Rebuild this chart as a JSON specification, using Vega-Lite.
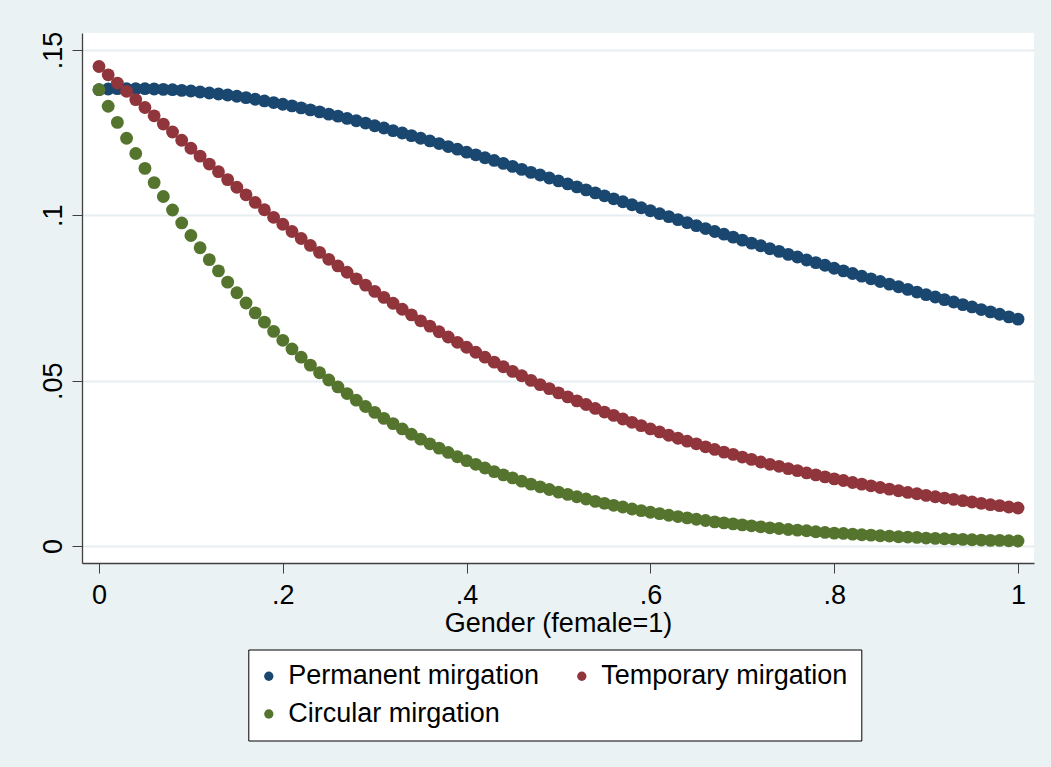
{
  "$schema": "https://vega.github.io/schema/vega-lite/v6.json",
  "width": 952,
  "height": 530,
  "autosize": {"type": "none"},
  "padding": {"left": 82, "top": 33, "right": 17, "bottom": 204},
  "background": "#EAF2F3",
  "view": {"stroke": null, "fill": "white"},
  "data": {"values": [
{"g":0,"s":"Permanent mirgation","p":0.1380},{"g":0.01,"s":"Permanent mirgation","p":0.1382},{"g":0.02,"s":"Permanent mirgation","p":0.1383},{"g":0.03,"s":"Permanent mirgation","p":0.1383},{"g":0.04,"s":"Permanent mirgation","p":0.1383},{"g":0.05,"s":"Permanent mirgation","p":0.1383},{"g":0.06,"s":"Permanent mirgation","p":0.1382},{"g":0.07,"s":"Permanent mirgation","p":0.1381},{"g":0.08,"s":"Permanent mirgation","p":0.1380},{"g":0.09,"s":"Permanent mirgation","p":0.1378},
{"g":0.1,"s":"Permanent mirgation","p":0.1376},{"g":0.11,"s":"Permanent mirgation","p":0.1373},{"g":0.12,"s":"Permanent mirgation","p":0.1370},{"g":0.13,"s":"Permanent mirgation","p":0.1367},{"g":0.14,"s":"Permanent mirgation","p":0.1364},{"g":0.15,"s":"Permanent mirgation","p":0.1360},{"g":0.16,"s":"Permanent mirgation","p":0.1356},{"g":0.17,"s":"Permanent mirgation","p":0.1351},{"g":0.18,"s":"Permanent mirgation","p":0.1346},{"g":0.19,"s":"Permanent mirgation","p":0.1341},
{"g":0.2,"s":"Permanent mirgation","p":0.1336},{"g":0.21,"s":"Permanent mirgation","p":0.1331},{"g":0.22,"s":"Permanent mirgation","p":0.1325},{"g":0.23,"s":"Permanent mirgation","p":0.1319},{"g":0.24,"s":"Permanent mirgation","p":0.1313},{"g":0.25,"s":"Permanent mirgation","p":0.1306},{"g":0.26,"s":"Permanent mirgation","p":0.1300},{"g":0.27,"s":"Permanent mirgation","p":0.1293},{"g":0.28,"s":"Permanent mirgation","p":0.1286},{"g":0.29,"s":"Permanent mirgation","p":0.1279},
{"g":0.3,"s":"Permanent mirgation","p":0.1271},{"g":0.31,"s":"Permanent mirgation","p":0.1264},{"g":0.32,"s":"Permanent mirgation","p":0.1256},{"g":0.33,"s":"Permanent mirgation","p":0.1249},{"g":0.34,"s":"Permanent mirgation","p":0.1241},{"g":0.35,"s":"Permanent mirgation","p":0.1233},{"g":0.36,"s":"Permanent mirgation","p":0.1225},{"g":0.37,"s":"Permanent mirgation","p":0.1217},{"g":0.38,"s":"Permanent mirgation","p":0.1208},{"g":0.39,"s":"Permanent mirgation","p":0.1200},
{"g":0.4,"s":"Permanent mirgation","p":0.1191},{"g":0.41,"s":"Permanent mirgation","p":0.1183},{"g":0.42,"s":"Permanent mirgation","p":0.1174},{"g":0.43,"s":"Permanent mirgation","p":0.1166},{"g":0.44,"s":"Permanent mirgation","p":0.1157},{"g":0.45,"s":"Permanent mirgation","p":0.1148},{"g":0.46,"s":"Permanent mirgation","p":0.1139},{"g":0.47,"s":"Permanent mirgation","p":0.1130},{"g":0.48,"s":"Permanent mirgation","p":0.1122},{"g":0.49,"s":"Permanent mirgation","p":0.1113},
{"g":0.5,"s":"Permanent mirgation","p":0.1104},{"g":0.51,"s":"Permanent mirgation","p":0.1095},{"g":0.52,"s":"Permanent mirgation","p":0.1086},{"g":0.53,"s":"Permanent mirgation","p":0.1077},{"g":0.54,"s":"Permanent mirgation","p":0.1068},{"g":0.55,"s":"Permanent mirgation","p":0.1059},{"g":0.56,"s":"Permanent mirgation","p":0.1050},{"g":0.57,"s":"Permanent mirgation","p":0.1041},{"g":0.58,"s":"Permanent mirgation","p":0.1032},{"g":0.59,"s":"Permanent mirgation","p":0.1023},
{"g":0.6,"s":"Permanent mirgation","p":0.1014},{"g":0.61,"s":"Permanent mirgation","p":0.1005},{"g":0.62,"s":"Permanent mirgation","p":0.0996},{"g":0.63,"s":"Permanent mirgation","p":0.0987},{"g":0.64,"s":"Permanent mirgation","p":0.0978},{"g":0.65,"s":"Permanent mirgation","p":0.0969},{"g":0.66,"s":"Permanent mirgation","p":0.0960},{"g":0.67,"s":"Permanent mirgation","p":0.0951},{"g":0.68,"s":"Permanent mirgation","p":0.0943},{"g":0.69,"s":"Permanent mirgation","p":0.0934},
{"g":0.7,"s":"Permanent mirgation","p":0.0925},{"g":0.71,"s":"Permanent mirgation","p":0.0916},{"g":0.72,"s":"Permanent mirgation","p":0.0908},{"g":0.73,"s":"Permanent mirgation","p":0.0899},{"g":0.74,"s":"Permanent mirgation","p":0.0891},{"g":0.75,"s":"Permanent mirgation","p":0.0882},{"g":0.76,"s":"Permanent mirgation","p":0.0874},{"g":0.77,"s":"Permanent mirgation","p":0.0865},{"g":0.78,"s":"Permanent mirgation","p":0.0857},{"g":0.79,"s":"Permanent mirgation","p":0.0849},
{"g":0.8,"s":"Permanent mirgation","p":0.0840},{"g":0.81,"s":"Permanent mirgation","p":0.0832},{"g":0.82,"s":"Permanent mirgation","p":0.0824},{"g":0.83,"s":"Permanent mirgation","p":0.0816},{"g":0.84,"s":"Permanent mirgation","p":0.0808},{"g":0.85,"s":"Permanent mirgation","p":0.0800},{"g":0.86,"s":"Permanent mirgation","p":0.0792},{"g":0.87,"s":"Permanent mirgation","p":0.0784},{"g":0.88,"s":"Permanent mirgation","p":0.0776},{"g":0.89,"s":"Permanent mirgation","p":0.0768},
{"g":0.9,"s":"Permanent mirgation","p":0.0760},{"g":0.91,"s":"Permanent mirgation","p":0.0753},{"g":0.92,"s":"Permanent mirgation","p":0.0745},{"g":0.93,"s":"Permanent mirgation","p":0.0738},{"g":0.94,"s":"Permanent mirgation","p":0.0730},{"g":0.95,"s":"Permanent mirgation","p":0.0723},{"g":0.96,"s":"Permanent mirgation","p":0.0715},{"g":0.97,"s":"Permanent mirgation","p":0.0708},{"g":0.98,"s":"Permanent mirgation","p":0.0701},{"g":0.99,"s":"Permanent mirgation","p":0.0693},
{"g":1,"s":"Permanent mirgation","p":0.0686},
{"g":0,"s":"Temporary mirgation","p":0.1450},{"g":0.01,"s":"Temporary mirgation","p":0.1425},{"g":0.02,"s":"Temporary mirgation","p":0.1400},{"g":0.03,"s":"Temporary mirgation","p":0.1375},{"g":0.04,"s":"Temporary mirgation","p":0.1350},{"g":0.05,"s":"Temporary mirgation","p":0.1326},{"g":0.06,"s":"Temporary mirgation","p":0.1301},{"g":0.07,"s":"Temporary mirgation","p":0.1276},{"g":0.08,"s":"Temporary mirgation","p":0.1252},{"g":0.09,"s":"Temporary mirgation","p":0.1227},
{"g":0.1,"s":"Temporary mirgation","p":0.1203},{"g":0.11,"s":"Temporary mirgation","p":0.1179},{"g":0.12,"s":"Temporary mirgation","p":0.1155},{"g":0.13,"s":"Temporary mirgation","p":0.1132},{"g":0.14,"s":"Temporary mirgation","p":0.1108},{"g":0.15,"s":"Temporary mirgation","p":0.1085},{"g":0.16,"s":"Temporary mirgation","p":0.1062},{"g":0.17,"s":"Temporary mirgation","p":0.1039},{"g":0.18,"s":"Temporary mirgation","p":0.1017},{"g":0.19,"s":"Temporary mirgation","p":0.0994},
{"g":0.2,"s":"Temporary mirgation","p":0.0973},{"g":0.21,"s":"Temporary mirgation","p":0.0951},{"g":0.22,"s":"Temporary mirgation","p":0.0930},{"g":0.23,"s":"Temporary mirgation","p":0.0909},{"g":0.24,"s":"Temporary mirgation","p":0.0888},{"g":0.25,"s":"Temporary mirgation","p":0.0867},{"g":0.26,"s":"Temporary mirgation","p":0.0847},{"g":0.27,"s":"Temporary mirgation","p":0.0828},{"g":0.28,"s":"Temporary mirgation","p":0.0808},{"g":0.29,"s":"Temporary mirgation","p":0.0789},
{"g":0.3,"s":"Temporary mirgation","p":0.0770},{"g":0.31,"s":"Temporary mirgation","p":0.0752},{"g":0.32,"s":"Temporary mirgation","p":0.0734},{"g":0.33,"s":"Temporary mirgation","p":0.0716},{"g":0.34,"s":"Temporary mirgation","p":0.0699},{"g":0.35,"s":"Temporary mirgation","p":0.0681},{"g":0.36,"s":"Temporary mirgation","p":0.0665},{"g":0.37,"s":"Temporary mirgation","p":0.0648},{"g":0.38,"s":"Temporary mirgation","p":0.0632},{"g":0.39,"s":"Temporary mirgation","p":0.0616},
{"g":0.4,"s":"Temporary mirgation","p":0.0601},{"g":0.41,"s":"Temporary mirgation","p":0.0586},{"g":0.42,"s":"Temporary mirgation","p":0.0571},{"g":0.43,"s":"Temporary mirgation","p":0.0556},{"g":0.44,"s":"Temporary mirgation","p":0.0542},{"g":0.45,"s":"Temporary mirgation","p":0.0528},{"g":0.46,"s":"Temporary mirgation","p":0.0515},{"g":0.47,"s":"Temporary mirgation","p":0.0501},{"g":0.48,"s":"Temporary mirgation","p":0.0488},{"g":0.49,"s":"Temporary mirgation","p":0.0476},
{"g":0.5,"s":"Temporary mirgation","p":0.0463},{"g":0.51,"s":"Temporary mirgation","p":0.0451},{"g":0.52,"s":"Temporary mirgation","p":0.0439},{"g":0.53,"s":"Temporary mirgation","p":0.0428},{"g":0.54,"s":"Temporary mirgation","p":0.0416},{"g":0.55,"s":"Temporary mirgation","p":0.0405},{"g":0.56,"s":"Temporary mirgation","p":0.0395},{"g":0.57,"s":"Temporary mirgation","p":0.0384},{"g":0.58,"s":"Temporary mirgation","p":0.0374},{"g":0.59,"s":"Temporary mirgation","p":0.0364},
{"g":0.6,"s":"Temporary mirgation","p":0.0354},{"g":0.61,"s":"Temporary mirgation","p":0.0345},{"g":0.62,"s":"Temporary mirgation","p":0.0335},{"g":0.63,"s":"Temporary mirgation","p":0.0326},{"g":0.64,"s":"Temporary mirgation","p":0.0317},{"g":0.65,"s":"Temporary mirgation","p":0.0309},{"g":0.66,"s":"Temporary mirgation","p":0.0300},{"g":0.67,"s":"Temporary mirgation","p":0.0292},{"g":0.68,"s":"Temporary mirgation","p":0.0284},{"g":0.69,"s":"Temporary mirgation","p":0.0277},
{"g":0.7,"s":"Temporary mirgation","p":0.0269},{"g":0.71,"s":"Temporary mirgation","p":0.0262},{"g":0.72,"s":"Temporary mirgation","p":0.0254},{"g":0.73,"s":"Temporary mirgation","p":0.0247},{"g":0.74,"s":"Temporary mirgation","p":0.0241},{"g":0.75,"s":"Temporary mirgation","p":0.0234},{"g":0.76,"s":"Temporary mirgation","p":0.0228},{"g":0.77,"s":"Temporary mirgation","p":0.0221},{"g":0.78,"s":"Temporary mirgation","p":0.0215},{"g":0.79,"s":"Temporary mirgation","p":0.0209},
{"g":0.8,"s":"Temporary mirgation","p":0.0203},{"g":0.81,"s":"Temporary mirgation","p":0.0198},{"g":0.82,"s":"Temporary mirgation","p":0.0192},{"g":0.83,"s":"Temporary mirgation","p":0.0187},{"g":0.84,"s":"Temporary mirgation","p":0.0182},{"g":0.85,"s":"Temporary mirgation","p":0.0177},{"g":0.86,"s":"Temporary mirgation","p":0.0172},{"g":0.87,"s":"Temporary mirgation","p":0.0167},{"g":0.88,"s":"Temporary mirgation","p":0.0162},{"g":0.89,"s":"Temporary mirgation","p":0.0158},
{"g":0.9,"s":"Temporary mirgation","p":0.0153},{"g":0.91,"s":"Temporary mirgation","p":0.0149},{"g":0.92,"s":"Temporary mirgation","p":0.0145},{"g":0.93,"s":"Temporary mirgation","p":0.0141},{"g":0.94,"s":"Temporary mirgation","p":0.0137},{"g":0.95,"s":"Temporary mirgation","p":0.0133},{"g":0.96,"s":"Temporary mirgation","p":0.0129},{"g":0.97,"s":"Temporary mirgation","p":0.0125},{"g":0.98,"s":"Temporary mirgation","p":0.0122},{"g":0.99,"s":"Temporary mirgation","p":0.0118},
{"g":1,"s":"Temporary mirgation","p":0.0115},
{"g":0,"s":"Circular mirgation","p":0.1380},{"g":0.01,"s":"Circular mirgation","p":0.1330},{"g":0.02,"s":"Circular mirgation","p":0.1281},{"g":0.03,"s":"Circular mirgation","p":0.1233},{"g":0.04,"s":"Circular mirgation","p":0.1187},{"g":0.05,"s":"Circular mirgation","p":0.1142},{"g":0.06,"s":"Circular mirgation","p":0.1099},{"g":0.07,"s":"Circular mirgation","p":0.1057},{"g":0.08,"s":"Circular mirgation","p":0.1016},{"g":0.09,"s":"Circular mirgation","p":0.0977},
{"g":0.1,"s":"Circular mirgation","p":0.0939},{"g":0.11,"s":"Circular mirgation","p":0.0902},{"g":0.12,"s":"Circular mirgation","p":0.0866},{"g":0.13,"s":"Circular mirgation","p":0.0832},{"g":0.14,"s":"Circular mirgation","p":0.0798},{"g":0.15,"s":"Circular mirgation","p":0.0766},{"g":0.16,"s":"Circular mirgation","p":0.0735},{"g":0.17,"s":"Circular mirgation","p":0.0705},{"g":0.18,"s":"Circular mirgation","p":0.0677},{"g":0.19,"s":"Circular mirgation","p":0.0649},
{"g":0.2,"s":"Circular mirgation","p":0.0622},{"g":0.21,"s":"Circular mirgation","p":0.0596},{"g":0.22,"s":"Circular mirgation","p":0.0571},{"g":0.23,"s":"Circular mirgation","p":0.0547},{"g":0.24,"s":"Circular mirgation","p":0.0524},{"g":0.25,"s":"Circular mirgation","p":0.0502},{"g":0.26,"s":"Circular mirgation","p":0.0481},{"g":0.27,"s":"Circular mirgation","p":0.0461},{"g":0.28,"s":"Circular mirgation","p":0.0441},{"g":0.29,"s":"Circular mirgation","p":0.0422},
{"g":0.3,"s":"Circular mirgation","p":0.0404},{"g":0.31,"s":"Circular mirgation","p":0.0386},{"g":0.32,"s":"Circular mirgation","p":0.0370},{"g":0.33,"s":"Circular mirgation","p":0.0354},{"g":0.34,"s":"Circular mirgation","p":0.0338},{"g":0.35,"s":"Circular mirgation","p":0.0323},{"g":0.36,"s":"Circular mirgation","p":0.0309},{"g":0.37,"s":"Circular mirgation","p":0.0296},{"g":0.38,"s":"Circular mirgation","p":0.0283},{"g":0.39,"s":"Circular mirgation","p":0.0270},
{"g":0.4,"s":"Circular mirgation","p":0.0258},{"g":0.41,"s":"Circular mirgation","p":0.0247},{"g":0.42,"s":"Circular mirgation","p":0.0236},{"g":0.43,"s":"Circular mirgation","p":0.0225},{"g":0.44,"s":"Circular mirgation","p":0.0215},{"g":0.45,"s":"Circular mirgation","p":0.0206},{"g":0.46,"s":"Circular mirgation","p":0.0196},{"g":0.47,"s":"Circular mirgation","p":0.0187},{"g":0.48,"s":"Circular mirgation","p":0.0179},{"g":0.49,"s":"Circular mirgation","p":0.0171},
{"g":0.5,"s":"Circular mirgation","p":0.0163},{"g":0.51,"s":"Circular mirgation","p":0.0156},{"g":0.52,"s":"Circular mirgation","p":0.0149},{"g":0.53,"s":"Circular mirgation","p":0.0142},{"g":0.54,"s":"Circular mirgation","p":0.0135},{"g":0.55,"s":"Circular mirgation","p":0.0129},{"g":0.56,"s":"Circular mirgation","p":0.0123},{"g":0.57,"s":"Circular mirgation","p":0.0118},{"g":0.58,"s":"Circular mirgation","p":0.0112},{"g":0.59,"s":"Circular mirgation","p":0.0107},
{"g":0.6,"s":"Circular mirgation","p":0.0102},{"g":0.61,"s":"Circular mirgation","p":0.0098},{"g":0.62,"s":"Circular mirgation","p":0.0093},{"g":0.63,"s":"Circular mirgation","p":0.0089},{"g":0.64,"s":"Circular mirgation","p":0.0085},{"g":0.65,"s":"Circular mirgation","p":0.0081},{"g":0.66,"s":"Circular mirgation","p":0.0077},{"g":0.67,"s":"Circular mirgation","p":0.0073},{"g":0.68,"s":"Circular mirgation","p":0.0070},{"g":0.69,"s":"Circular mirgation","p":0.0067},
{"g":0.7,"s":"Circular mirgation","p":0.0064},{"g":0.71,"s":"Circular mirgation","p":0.0061},{"g":0.72,"s":"Circular mirgation","p":0.0058},{"g":0.73,"s":"Circular mirgation","p":0.0055},{"g":0.74,"s":"Circular mirgation","p":0.0053},{"g":0.75,"s":"Circular mirgation","p":0.0050},{"g":0.76,"s":"Circular mirgation","p":0.0048},{"g":0.77,"s":"Circular mirgation","p":0.0046},{"g":0.78,"s":"Circular mirgation","p":0.0043},{"g":0.79,"s":"Circular mirgation","p":0.0041},
{"g":0.8,"s":"Circular mirgation","p":0.0039},{"g":0.81,"s":"Circular mirgation","p":0.0038},{"g":0.82,"s":"Circular mirgation","p":0.0036},{"g":0.83,"s":"Circular mirgation","p":0.0034},{"g":0.84,"s":"Circular mirgation","p":0.0033},{"g":0.85,"s":"Circular mirgation","p":0.0031},{"g":0.86,"s":"Circular mirgation","p":0.0030},{"g":0.87,"s":"Circular mirgation","p":0.0028},{"g":0.88,"s":"Circular mirgation","p":0.0027},{"g":0.89,"s":"Circular mirgation","p":0.0026},
{"g":0.9,"s":"Circular mirgation","p":0.0024},{"g":0.91,"s":"Circular mirgation","p":0.0023},{"g":0.92,"s":"Circular mirgation","p":0.0022},{"g":0.93,"s":"Circular mirgation","p":0.0021},{"g":0.94,"s":"Circular mirgation","p":0.0020},{"g":0.95,"s":"Circular mirgation","p":0.0019},{"g":0.96,"s":"Circular mirgation","p":0.0018},{"g":0.97,"s":"Circular mirgation","p":0.0017},{"g":0.98,"s":"Circular mirgation","p":0.0017},{"g":0.99,"s":"Circular mirgation","p":0.0016},
{"g":1,"s":"Circular mirgation","p":0.0015}
  ]},
  "mark": {"type": "point", "filled": true, "opacity": 1, "size": 165, "shape": "circle"},
  "encoding": {
    "x": {
      "field": "g", "type": "quantitative",
      "scale": {"domain": [-0.0185, 1.0174], "nice": false, "zero": false},
      "axis": {
        "title": "Gender (female=1)",
        "values": [0, 0.2, 0.4, 0.6, 0.8, 1],
        "labelExpr": "replace(format(datum.value, '.2~f'), '0.', '.')",
        "grid": false,
        "domainColor": "#404040", "domainWidth": 1.3,
        "tickColor": "#404040", "tickWidth": 1, "tickSize": 10,
        "labelFont": "Liberation Sans", "labelFontSize": 27, "labelColor": "black",
        "labelPadding": 9, "labelFlush": false, "labelOverlap": false,
        "titleFont": "Liberation Sans", "titleFontSize": 27, "titleFontWeight": "normal", "titleColor": "black",
        "titleBaseline": "alphabetic", "titleY": 68
      }
    },
    "y": {
      "field": "p", "type": "quantitative",
      "scale": {"domain": [-0.005141, 0.155141], "nice": false, "zero": false},
      "axis": {
        "title": null,
        "values": [0, 0.05, 0.1, 0.15],
        "labelExpr": "replace(format(datum.value, '.2~f'), '0.', '.')",
        "grid": true, "gridColor": "#E6EEF1", "gridWidth": 2,
        "domainColor": "#404040", "domainWidth": 1.3,
        "tickColor": "#404040", "tickWidth": 1, "tickSize": 10,
        "labelFont": "Liberation Sans", "labelFontSize": 27, "labelColor": "black",
        "labelAngle": -90, "labelAlign": "center", "labelBaseline": "alphabetic",
        "labelPadding": 11, "labelFlush": false, "labelOverlap": false
      }
    },
    "color": {
      "field": "s", "type": "nominal",
      "scale": {
        "domain": ["Permanent mirgation", "Temporary mirgation", "Circular mirgation"],
        "range": ["#1A476F", "#90353B", "#55752F"]
      },
      "legend": {
        "title": null,
        "orient": "none", "legendX": 166.3, "legendY": 616.5,
        "direction": "horizontal", "columns": 2,
        "fillColor": "white", "strokeColor": "black",
        "padding": 13,
        "symbolType": "circle", "symbolSize": 86, "symbolStrokeWidth": 0, "symbolOpacity": 1,
        "symbolOffset": -6,
        "labelFont": "Liberation Sans", "labelFontSize": 27, "labelColor": "black",
        "labelOffset": 6, "columnPadding": 35, "rowPadding": 10,
        "labelLimit": 400
      }
    }
  }
}
